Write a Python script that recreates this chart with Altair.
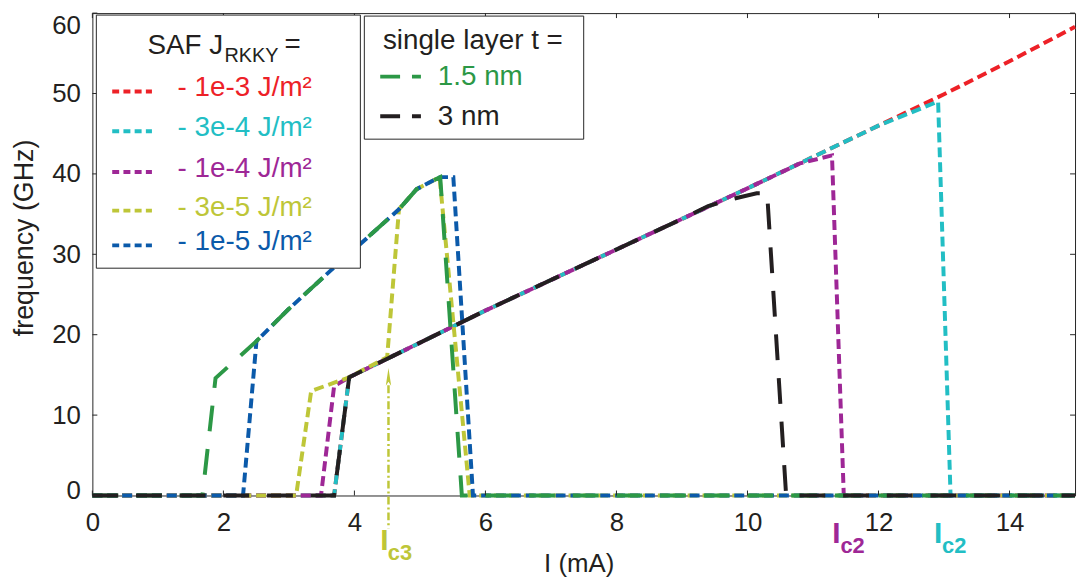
import altair as alt
import pandas as pd

FONT = "Liberation Sans"
FRAME = "#262626"
TXT = "#231F20"

# ---------------- data (I in mA, f in GHz) ----------------
red_I = [0.0, 3.69, 3.92, 5.0, 6.0, 7.0, 8.0, 9.0, 10.0, 11.0, 12.0, 13.0, 14.0, 15.0]
red_f = [0.0, 0.0, 14.7, 19.0, 23.0, 26.8, 30.6, 34.4, 38.2, 42.1, 46.0, 49.9, 54.0, 58.3]

cyan_I = [0.0, 3.69, 3.92, 5.0, 6.0, 7.0, 8.0, 9.0, 10.0, 11.0, 12.0, 12.91, 13.10, 15.0]
cyan_f = [0.0, 0.0, 14.7, 19.0, 23.0, 26.8, 30.6, 34.4, 38.2, 42.1, 46.0, 49.0, 0.0, 0.0]

purple_I = [0.0, 3.49, 3.69, 3.92, 5.0, 6.0, 7.0, 8.0, 9.0, 10.0, 10.8, 11.29, 11.47, 15.0]
purple_f = [0.0, 0.0, 13.6, 14.7, 19.0, 23.0, 26.8, 30.6, 34.4, 38.2, 41.3, 42.3, 0.0, 0.0]

yellow_I = [0.0, 3.11, 3.34, 3.92, 4.50, 4.68, 4.95, 5.21, 5.30, 5.76, 15.0]
yellow_f = [0.0, 0.0, 13.0, 14.7, 17.2, 35.6, 38.1, 39.2, 39.6, 0.0, 0.0]

blue_I = [0.0, 2.30, 2.505, 2.985, 3.64, 4.12, 4.68, 4.95, 5.21, 5.31, 5.51, 5.81, 15.0]
blue_f = [0.0, 0.0, 19.2, 23.1, 28.0, 31.5, 35.6, 38.1, 39.2, 39.6, 39.6, 0.0, 0.0]

green_I = [0.0, 1.68, 1.88, 2.505, 2.985, 3.64, 4.12, 4.68, 4.95, 5.21, 5.31, 5.64, 15.0]
green_f = [0.0, 0.0, 14.6, 19.2, 23.1, 28.0, 31.5, 35.6, 38.1, 39.2, 39.6, 0.0, 0.0]

black_I = [0.0, 3.69, 3.92, 5.0, 6.0, 7.0, 8.0, 9.0, 9.4, 9.78, 10.14, 10.30, 10.59, 15.0]
black_f = [0.0, 0.0, 14.7, 19.0, 23.0, 26.8, 30.6, 34.4, 36.0, 36.9, 37.6, 37.6, 0.0, 0.0]

saf_labels = ["- 1e-3 J/m²", "- 3e-4 J/m²", "- 1e-4 J/m²", "- 3e-5 J/m²", "- 1e-5 J/m²"]
saf_colors = ["#ED2127", "#22BEC4", "#9E2796", "#BEC638", "#0B5AAA"]
single_labels = ["1.5 nm", "3 nm"]
single_colors = ["#2C9846", "#231F20"]

x_ticks = [0, 2, 4, 6, 8, 10, 12, 14]
y_ticks = [0, 10, 20, 30, 40, 50, 60]

ic3_current = 4.52      # arrow position (mA)
ic3_tip = 15.9          # arrow tip frequency (GHz)

# ---------------- scales / axes ----------------
W, H = 990, 486
x_scale = alt.Scale(domain=[0, 15], nice=False, zero=False)
y_scale = alt.Scale(domain=[0, 60], nice=False, zero=False)

x_axis = alt.Axis(title="I (mA)", values=x_ticks, ticks=False, domain=False, grid=False,
                  labelFontSize=26, labelPadding=14, labelColor=TXT, labelFlush=False,
                  labelOverlap=False, titleFontSize=26, titleFontWeight="normal",
                  titleColor=TXT, titleX=490, titleY=77, titleBaseline="alphabetic")
y_axis = alt.Axis(title="frequency (GHz)", values=y_ticks, ticks=False, domain=False, grid=False,
                  labelFontSize=26, labelPadding=12, labelColor=TXT, labelOverlap=False,
                  labelOffset={"condition": [{"test": "datum.value == 60", "value": 13},
                                             {"test": "datum.value == 0", "value": -4.5}],
                               "value": 0},
                  titleFontSize=27, titleFontWeight="normal", titleColor=TXT,
                  titleX=-68, titleY=226, titleAngle=270, titleBaseline="middle",
                  titleAlign="center")


def X(field):
    return alt.X(field, scale=x_scale, axis=x_axis)


def Y(field):
    return alt.Y(field, scale=y_scale, axis=y_axis)


SAF_DASH = [10, 5]
SINGLE_DASH = [26, 18]


def line_layer(I, f, color, dash):
    df = pd.DataFrame({"I": I, "f": f, "k": list(range(len(I)))})
    return alt.Chart(df).mark_line(color=color, strokeDash=dash, strokeWidth=4).encode(
        x=X("I:Q"), y=Y("f:Q"), order="k:Q")


layers = [
    line_layer(red_I, red_f, saf_colors[0], SAF_DASH),
    line_layer(cyan_I, cyan_f, saf_colors[1], SAF_DASH),
    line_layer(purple_I, purple_f, saf_colors[2], SAF_DASH),
    line_layer(yellow_I, yellow_f, saf_colors[3], SAF_DASH),
    line_layer(blue_I, blue_f, saf_colors[4], SAF_DASH),
    line_layer(green_I, green_f, single_colors[0], SINGLE_DASH),
    line_layer(black_I, black_f, single_colors[1], SINGLE_DASH),
]

# arrow marking I_c3
arrow_df = pd.DataFrame({"I": [ic3_current], "f": [ic3_tip - 2.2], "bot": [-4.1],
                         "head": [ic3_tip - 1.15]})
layers.append(alt.Chart(arrow_df).mark_rule(color=saf_colors[3], strokeWidth=2.5,
                                             strokeDash=[8, 3, 2, 3]).encode(
    x=X("I:Q"), y=Y("f:Q"), y2="bot:Q"))
layers.append(alt.Chart(arrow_df).mark_point(
    shape="M0,-1L0.3,1L0,0.55L-0.3,1Z", size=324, filled=True, opacity=1,
    color=saf_colors[3], strokeWidth=0).encode(
    x=X("I:Q"), y=Y("head:Q")))

# inward ticks on all four sides
xt_df = pd.DataFrame({"I": x_ticks})
yt_df = pd.DataFrame({"f": y_ticks})
for ya, yb in [(H, H - 5), (0, 5)]:
    layers.append(alt.Chart(xt_df).mark_rule(color=FRAME, strokeWidth=1).encode(
        x=X("I:Q"), y=alt.value(ya), y2=alt.value(yb)))
for xa, xb in [(0, 5), (W, W - 5)]:
    layers.append(alt.Chart(yt_df).mark_rule(color=FRAME, strokeWidth=1).encode(
        y=Y("f:Q"), x=alt.value(xa), x2=alt.value(xb)))

one = pd.DataFrame({"k": [0]})


def txt(s, x, y, color=TXT, size=28, weight="normal", align="left", baseline="alphabetic"):
    return alt.Chart(one).mark_text(text=s, color=color, fontSize=size, fontWeight=weight,
                                    align=align, baseline=baseline, font=FONT).encode(
        x=alt.value(x), y=alt.value(y))


def seg(x1, x2, y, color, dash):
    return alt.Chart(one).mark_rule(color=color, strokeDash=dash, strokeWidth=4).encode(
        x=alt.value(x1), x2=alt.value(x2), y=alt.value(y))


def box(x1, x2, y1, y2):
    return alt.Chart(one).mark_rect(fill="white", stroke=FRAME, strokeWidth=1).encode(
        x=alt.value(x1), x2=alt.value(x2), y=alt.value(y1), y2=alt.value(y2))


# legend 1 (SAF)
layers.append(box(4, 270, 2, 257))
layers.append(txt("SAF J", 55.6, 40.7))
layers.append(txt("RKKY", 133, 49, size=20))
layers.append(txt("=", 193.6, 40.5))
row_base = [84, 124, 165, 204, 239]
for lab, col, yb in zip(saf_labels, saf_colors, row_base):
    layers.append(seg(20, 60, yb - 5, col, [7, 4.3]))
    layers.append(txt(lab, 85.8, yb, color=col))

# legend 2 (single layer)
layers.append(box(274, 495, 3, 127))
layers.append(txt("single layer t =", 292.7, 35.7))
for lab, col, yb in zip(single_labels, single_colors, [72.3, 112.3]):
    layers.append(seg(290, 331, yb - 8.3, col, [20, 12]))
    layers.append(txt(lab, 348, yb, color=col))

# critical current labels
layers.append(txt("I", 294.2, 540.5, color=saf_colors[3], size=30, weight="bold", align="center"))
layers.append(txt("c3", 297.7, 550.7, color=saf_colors[3], size=22, weight="bold"))
layers.append(txt("I", 749.5, 533.5, color=saf_colors[2], size=30, weight="bold", align="center"))
layers.append(txt("c2", 753.7, 544, color=saf_colors[2], size=22, weight="bold"))
layers.append(txt("I", 852, 533.5, color=saf_colors[1], size=30, weight="bold", align="center"))
layers.append(txt("c2", 856, 544, color=saf_colors[1], size=22, weight="bold"))

chart = alt.layer(*layers).properties(
    width=W, height=H,
    autosize=alt.AutoSizeParams(type="none"),
    padding={"left": 85, "top": 3, "right": 4, "bottom": 84},
    background="white",
).configure(font=FONT).configure_view(stroke=FRAME, strokeWidth=1)

chart.save("out.html", embed_options={"renderer": "svg", "actions": False})
